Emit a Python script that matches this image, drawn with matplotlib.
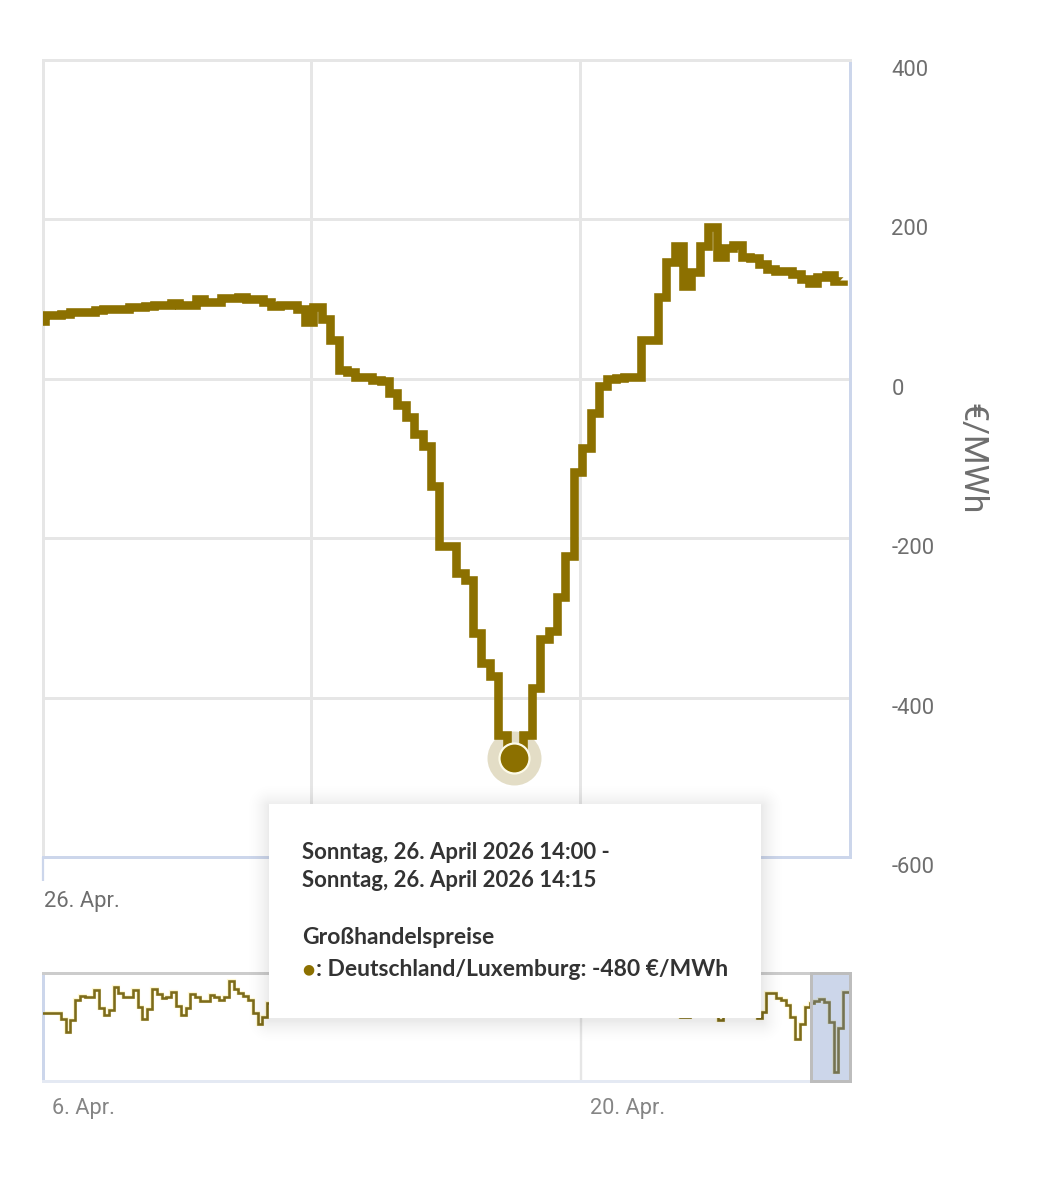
import numpy as np
import matplotlib
matplotlib.use('Agg')
import matplotlib.pyplot as plt
import matplotlib.transforms as mtrans
from matplotlib.patches import Rectangle

W, H = 1044, 1200

# Main series: 15-minute prices for 26 April, EUR/MWh (first entry is the preceding quarter-hour)
price_prev = [72]
prices = [79.5, 79.5, 81.6, 83.7, 84, 84, 86.6, 87, 87, 88, 90, 90, 91, 92, 93, 95,
          92, 92, 100.4, 96.6, 96.6, 101.6, 102, 103, 100, 99.6, 96.7, 91, 92.5, 92.5, 87, 71,
          90, 75, 48.6, 11, 9, 2.6, 2, -1, -2.4, -17.5, -33, -47.7, -69.5, -84, -134, -210,
          -210, -244, -252.5, -318.6, -356, -372.5, -447, -476, -476, -447, -388, -326, -317, -273.5, -222.5, -116.7,
          -86.6, -42.3, -8.8, -0.7, 0.5, 1.8, 2.6, 48.6, 48.6, 103, 147, 167, 116.7, 134, 167, 190.7,
          153, 163.5, 167.7, 153, 152, 143.5, 137.6, 135, 135, 132, 125, 119.6, 128, 130, 122.6, 123.8]
hover_index = 56
y_ticks = [400, 200, 0, -200, -400, -600]
y_tick_labels = ['400', '200', '0', '-200', '-400', '-600']
x_tick_pos = [0, 31.9, 63.9]
x_tick_labels = ['26. Apr.', '', '']

# Navigator: 3-hourly values; the stretch behind the tooltip cannot be read
nav_start = [11, 11, 11, 11, -29, -112, -34, 100, 127, 118, 123, 167, 45, 0, 33, 190,
             145, 118, 123, 167, 56, -27, 38, 172, 138, 116, 123, 152, 62, 0, 45, 143,
             118, 94, 96, 134, 123, 100, 123, 230, 172, 145, 127, 100, 16, -62, -16, 78]
nav_fragments = {132: 60, 133: -16, 134: -16, 135: 60, 140: 60, 141: -34, 142: 60}
nav_end = [-22, 18, 145, 145, 112, 100, 67, -11, -161, -60, 56, 83, 96, 105, 89, -49, -380, -89, 156, 156]
nav_tick_pos = [0, 112]
nav_tick_labels = ['6. Apr.', '20. Apr.']

OLIVE = '#8c7000'
GRID = '#e6e6e6'
BLUE = '#ccd6eb'
LABEL = '#6e6e6e'

plt.rcParams['font.family'] = ['Roboto', 'DejaVu Sans']
fig = plt.figure(figsize=(W / 100, H / 100), dpi=100, facecolor='white')
PX = 72 / 100


def fx(x):
    return x / W


def fy(y):
    return 1 - y / H


# ---------- main chart ----------
ax = fig.add_axes([fx(43), fy(857), 807 / W, 797 / H], zorder=1)
ax.set_xlim(0, 807 / 8.4)
ax.set_ylim(-600, 400)
ax.set_yticks(y_ticks)
ax.set_yticklabels(y_tick_labels)
ax.set_xticks(x_tick_pos)
ax.set_xticklabels(x_tick_labels, fontsize=15.8, color=LABEL, ha='left')
ax.yaxis.tick_right()
ax.tick_params(axis='y', length=0, pad=41.5 * PX, labelsize=15.8, labelcolor=LABEL)
ax.tick_params(axis='x', length=24 * PX, width=2.2 * PX, color=BLUE, pad=10 * PX)
for lab in ax.get_yticklabels():
    lab.set_va('top')
shift_right = mtrans.ScaledTranslation(1 / 100, 0, fig.dpi_scale_trans)
for lab in ax.get_xticklabels():
    lab.set_transform(lab.get_transform() + shift_right)
ax.grid(True, color=GRID, lw=3 * PX)
ax.set_axisbelow(True)
for s in ['top', 'left']:
    ax.spines[s].set_color(GRID)
    ax.spines[s].set_linewidth(3 * PX)
for s in ['right', 'bottom']:
    ax.spines[s].set_color(BLUE)
    ax.spines[s].set_linewidth(3 * PX)
ax.yaxis.set_label_position('right')
ax.set_ylabel('€/MWh', rotation=270, fontsize=24.4, color=LABEL, va='center', ha='center')
ax.yaxis.set_label_coords((971 - 43) / 807, 0.5)

LINE_SHIFT = 0.18
series = np.array(price_prev + prices, dtype=float)
times = np.arange(-1, len(prices)) + LINE_SHIFT
hover_x = hover_index + 0.07
hover_y = prices[hover_index]

ax.plot([hover_x], [hover_y], 'o', ms=54 * PX, mfc='#e3ddc6', mec='none', zorder=3)
ax.plot([hover_x, hover_x], [prices[hover_index - 2], hover_y], color='#e3ddc6', lw=9 * PX,
        solid_capstyle='butt', zorder=3)
ax.step(times, series, where='post', color=OLIVE, lw=8.6 * PX,
        solid_joinstyle='miter', solid_capstyle='butt', zorder=4)
ax.plot([hover_x], [hover_y], 'o', ms=30 * PX, mfc=OLIVE, mec='#fdfbe9', mew=2.2 * PX, zorder=5)

# ---------- navigator ----------
nav = fig.add_axes([fx(43), fy(1081), 807 / W, 108 / H], zorder=1)
n_total = 169
nav_vals = np.full(n_total, np.nan)
nav_vals[:len(nav_start)] = nav_start
for i, v in nav_fragments.items():
    nav_vals[i] = v
nav_vals[-len(nav_end):] = nav_end
nav_x = np.arange(n_total) - 0.28
nav.set_xlim(0, 807 / 4.8)
nav.set_ylim(-442, 281)
nav.set_yticks([])
nav.set_xticks(nav_tick_pos)
nav.set_xticklabels(nav_tick_labels, fontsize=15.7, color='#858585', ha='left')
nav.tick_params(axis='x', length=0, pad=17 * PX)
nav.grid(True, axis='x', color=GRID, lw=2.4 * PX)
nav.set_axisbelow(True)
nav.spines['top'].set_color('#cccccc')
nav.spines['top'].set_linewidth(3 * PX)
nav.spines['left'].set_color(BLUE)
nav.spines['left'].set_linewidth(3 * PX)
nav.spines['bottom'].set_color('#e4e9f3')
nav.spines['bottom'].set_linewidth(3 * PX)
nav.spines['right'].set_visible(False)
nav.step(nav_x, nav_vals, where='post', color='#fff3a8', lw=4.2 * PX,
         solid_joinstyle='miter', alpha=0.5, zorder=2)
nav.step(nav_x, nav_vals, where='post', color='#7d6b1a', lw=2.6 * PX,
         solid_joinstyle='miter', zorder=3)
nav.add_patch(Rectangle((160, -442), 807 / 4.8 - 160, 723, facecolor=(102 / 255, 133 / 255, 194 / 255, 0.33),
                        edgecolor='#bdbdbd', lw=3 * PX, zorder=4, clip_on=False))
offset = mtrans.ScaledTranslation(9 / 100, 0, fig.dpi_scale_trans)
for lab in nav.get_xticklabels():
    lab.set_transform(lab.get_transform() + offset)

# ---------- tooltip ----------
tx0, ty0, tx1, ty1 = 269, 804, 761, 1018
yy, xx = np.mgrid[0:H, 0:W]
dx = np.maximum(np.maximum(tx0 - xx, xx - tx1), 0)
dy = np.maximum(np.maximum(ty0 - (yy - 2), (yy - 2) - ty1), 0)
dist = np.hypot(dx, dy)
shadow = np.zeros((H, W, 4))
shadow[..., 3] = 0.085 * np.clip(1 - dist / 26, 0, 1) ** 2
fig.figimage(shadow, 0, 0, origin='upper', zorder=9)
fig.add_artist(Rectangle((fx(tx0), fy(ty1)), (tx1 - tx0) / W, (ty1 - ty0) / H, transform=fig.transFigure,
                         facecolor='white', edgecolor='none', zorder=10))
TIP = dict(family=['Lato', 'DejaVu Sans'], fontweight='bold', color='#333333', zorder=11, va='center', ha='left')
fig.text(fx(302), fy(852.5), 'Sonntag, 26. April 2026 14:00 -', fontsize=15.9, **TIP)
fig.text(fx(302), fy(880.5), 'Sonntag, 26. April 2026 14:15', fontsize=15.9, **TIP)
fig.text(fx(302), fy(937.5), 'Großhandelspreise', fontsize=16.5, **TIP)
fig.text(fx(302), fy(969), '●', family='DejaVu Sans', fontsize=10, color=OLIVE, zorder=11, va='center', ha='left')
fig.text(fx(316), fy(969.5), ': Deutschland/Luxemburg: -480 €/MWh', fontsize=16.5, **TIP)

fig.savefig('out.png', dpi=100, facecolor='white')
